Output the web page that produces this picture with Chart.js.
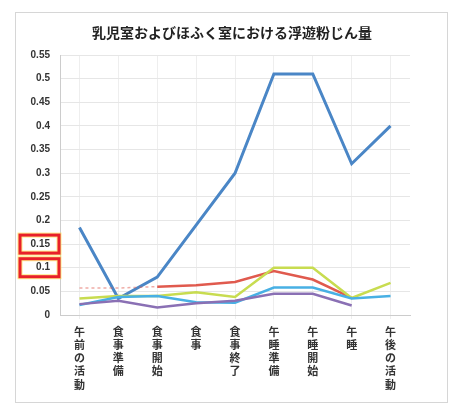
<!DOCTYPE html>
<html>
<head>
<meta charset="utf-8">
<script src="https://cdn.jsdelivr.net/npm/chart.js@4.4.1/dist/chart.umd.min.js"></script>
<style>
  body { margin: 0; background: #fff; }
</style>
</head>
<body>
<canvas id="myChart" width="451" height="407"></canvas>
<script>
const labels = ['午前の活動','食事準備','食事開始','食事','食事終了','午睡準備','午睡開始','午睡','午後の活動'];
const blueData   = [0.185, 0.035, 0.08, 0.19, 0.30, 0.51, 0.51, 0.32, 0.40];
const redData    = [0.057, 0.057, 0.06, 0.063, 0.07, 0.093, 0.075, 0.036, null];
const yellowData = [0.035, 0.04, 0.04, 0.048, 0.038, 0.10, 0.10, 0.036, 0.068];
const cyanData   = [0.021, 0.038, 0.04, 0.027, 0.026, 0.058, 0.058, 0.035, 0.04];
const purpleData = [0.023, 0.03, 0.016, 0.025, 0.03, 0.045, 0.045, 0.02, null];
const yTicks = [0, 0.05, 0.1, 0.15, 0.2, 0.25, 0.3, 0.35, 0.4, 0.45, 0.5, 0.55];
const boxedTicks = [0.15, 0.1];
const title = '乳児室およびほふく室における浮遊粉じん量';

const decor = {
    id: 'decor',
    beforeDraw(chart) {
        const ctx = chart.ctx;
        ctx.save();
        ctx.fillStyle = '#fff';
        ctx.fillRect(0, 0, chart.width, chart.height);
        ctx.strokeStyle = '#d6d6d6';
        ctx.lineWidth = 1;
        ctx.strokeRect(15.5, 12.5, 432, 390);
        ctx.fillStyle = '#222';
        ctx.font = 'bold 14px "Noto Sans CJK JP"';
        ctx.textAlign = 'center';
        ctx.textBaseline = 'middle';
        ctx.fillText(title, 232, 33);
        ctx.restore();
    },
    afterDraw(chart) {
        const ctx = chart.ctx;
        const y = chart.scales.y;
        ctx.save();
        boxedTicks.forEach(v => {
            const py = y.getPixelForValue(v);
            ctx.strokeStyle = 'rgba(255,220,60,0.6)';
            ctx.lineWidth = 5;
            ctx.strokeRect(20, py - 9, 39, 18);
            ctx.strokeStyle = '#e8202a';
            ctx.lineWidth = 3;
            ctx.strokeRect(20, py - 9, 39, 18);
        });
        ctx.restore();
    }
};

const mk = (data, color, width) => ({
    data: data,
    borderColor: color,
    backgroundColor: color,
    borderWidth: width,
    pointRadius: 0,
    tension: 0,
    spanGaps: false
});

const redSet = mk(redData, '#e05a4e', 2.5);
redSet.segment = {
    borderDash: c => c.p1DataIndex <= 2 ? [3, 3] : undefined,
    borderColor: c => c.p1DataIndex <= 2 ? 'rgba(224,90,78,0.5)' : undefined,
    borderWidth: c => c.p1DataIndex <= 2 ? 1.5 : undefined
};

const data = {
    labels: labels,
    datasets: [
        mk(purpleData, '#8a70b4', 2.5),
        mk(cyanData, '#48b0e4', 2.5),
        mk(yellowData, '#c8dc50', 2.5),
        redSet,
        mk(blueData, '#4a86c6', 3)
    ]
};

const config = {
    type: 'line',
    data: data,
    plugins: [decor],
    options: {
        responsive: false,
        animation: false,
        layout: { padding: { top: 55, right: 41, bottom: 10, left: 0 } },
        plugins: {
            legend: { display: false },
            title: { display: false },
            tooltip: { enabled: false }
        },
        scales: {
            x: {
                offset: true,
                grid: { color: '#eeeeee', offset: false, drawTicks: true, tickLength: 4 },
                border: { color: '#cccccc' },
                ticks: {
                    maxRotation: 0,
                    autoSkip: false,
                    color: '#333',
                    font: { size: 11, family: '"Noto Sans CJK JP"', weight: 'bold' },
                    padding: 6,
                    callback: function (v, i) { return labels[i].split(''); }
                }
            },
            y: {
                min: 0,
                max: 0.55,
                afterFit: s => { s.width = 60; },
                afterBuildTicks: s => { s.ticks = yTicks.map(v => ({ value: v })); },
                grid: { color: '#e6e6e6', drawTicks: false },
                border: { color: '#cccccc' },
                ticks: {
                    color: '#333',
                    font: { size: 10, family: '"Liberation Sans"', weight: 'bold' },
                    padding: 10,
                    callback: v => String(+v.toFixed(2))
                }
            }
        }
    }
};

const myChart = new Chart(document.getElementById('myChart'), config);
</script>
</body>
</html>
